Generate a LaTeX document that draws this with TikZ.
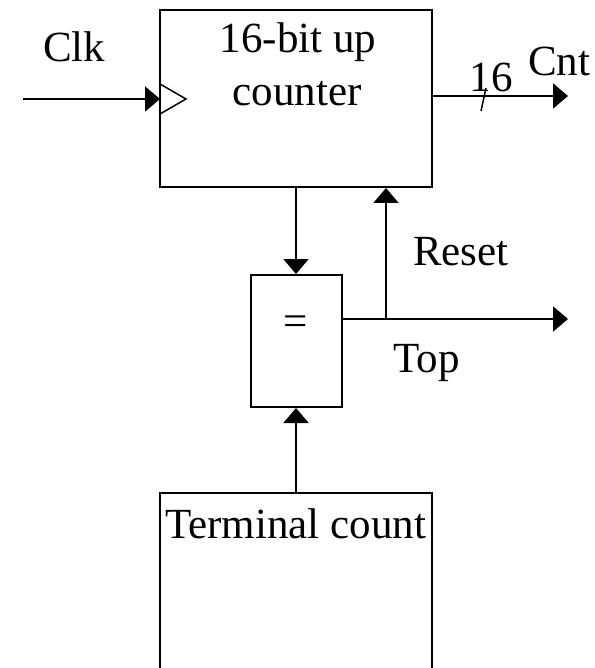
\documentclass[tikz,border=0pt]{standalone}
\usepackage{fontspec}
\setmainfont{Liberation Serif}
\usetikzlibrary{arrows.meta}
\begin{document}
\begin{tikzpicture}[x=1pt,y=-1pt,
  wire/.style={line width=2pt,-{Triangle[length=15pt,width=25pt]}},
  plain/.style={line width=2pt},
  blk/.style={draw,line width=2pt,inner sep=0pt},
  lbl/.style={font=\fontsize{43}{48}\selectfont,inner sep=0pt}]
\useasboundingbox (0,0) rectangle (594,668);
% counter box
\node[blk,minimum width=272pt,minimum height=177pt] (cnt) at (296,98.5) {};
\node[lbl,anchor=base] (cnttxt1) at (298,53) {16-bit up};
\node[lbl,anchor=base] (cnttxt2) at (297,106) {counter};
% clock triangle
\coordinate (ct1) at (160,84);
\coordinate (ct2) at (186,99);
\coordinate (ct3) at (160,114);
\draw[line width=1.5pt] (ct1) -- (ct2) -- (ct3);
% clk input
\coordinate (clkin) at (23,99);
\coordinate (clkend) at (160,99);
\draw[wire] (clkin) -- (clkend);
\node[lbl,anchor=base west] (clk) at (43,62) {Clk};
% cnt output
\coordinate (cntout0) at (432,96);
\coordinate (cntout1) at (568,96);
\draw[wire] (cntout0) -- (cntout1);
\coordinate (sl1) at (486,88);
\coordinate (sl2) at (481,111);
\draw[line width=1.5pt] (sl1) -- (sl2);
\node[lbl,anchor=base] (n16) at (491,92) {16};
\node[lbl,anchor=base west] (cntl) at (528,76) {Cnt};
% comparator
\node[blk,minimum width=91pt,minimum height=132pt] (eq) at (296,341) {};
\node[lbl] (eqs) at (296,326) {=};
% counter -> eq
\draw[wire] (cnt.south -| eq.north) -- (eq.north);
% Top output and reset
\coordinate (tap) at (386,319);
\coordinate (topend) at (568,319);
\draw[plain] (eq.east |- tap) -- (tap);
\draw[wire] (tap) -- (topend);
\draw[wire] (tap) -- (tap |- cnt.south);
\node[lbl,anchor=base west] (reset) at (413,265) {Reset};
\node[lbl,anchor=base west] (top) at (393,372) {Top};
% terminal count (open at bottom)
\coordinate (tc1) at (160,672);
\coordinate (tc2) at (160,493);
\coordinate (tc3) at (432,493);
\coordinate (tc4) at (432,672);
\draw[plain] (tc1) -- (tc2) -- (tc3) -- (tc4);
\node[lbl,anchor=base] (tct) at (295.5,538) {Terminal count};
\coordinate (tctop) at (296,493);
\draw[wire] (tctop) -- (eq.south);
\end{tikzpicture}
\end{document}
